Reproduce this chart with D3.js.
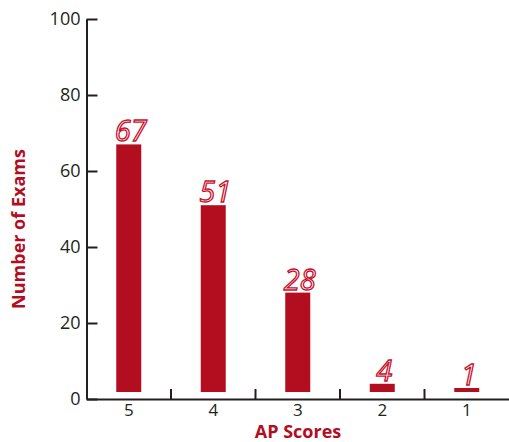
<!DOCTYPE html>
<html>
<head>
<meta charset="utf-8">
<script src="https://cdn.jsdelivr.net/npm/d3@7"></script>
<style>
body { margin: 0; background: #fff; }
</style>
</head>
<body>
<script>
var scores = ["5", "4", "3", "2", "1"];
var exams = [67, 51, 28, 4, 1];
var yTicks = [0, 20, 40, 60, 80, 100];

var width = 509;
var height = 442;
var red = "#b20e1f";
var ink = "#231f20";

var svg = d3.select("body").append("svg").attr("width", width).attr("height", height);

var xScale = d3.scaleBand()
    .domain(scores)
    .range([86.5, 509]);

var yScale = d3.scaleLinear()
    .domain([0, 100])
    .range([399, 19]);

// y axis, ticks point inward
var yAxis = svg.append("g")
    .attr("transform", "translate(" + 86.5 + "," + 0 + ")")
    .call(d3.axisLeft(yScale).tickValues(yTicks).tickSizeInner(-11).tickSizeOuter(0).tickPadding(6));
yAxis.select(".domain").attr("stroke", ink).attr("stroke-width", 2);
yAxis.selectAll(".tick line").attr("stroke", ink).attr("stroke-width", 2);
yAxis.selectAll(".tick text")
    .attr("fill", ink)
    .style("font-family", "'Open Sans', sans-serif")
    .style("font-size", "18px");

// x axis labels at band centres
var xAxis = svg.append("g")
    .attr("transform", "translate(" + 0 + "," + 399 + ")")
    .call(d3.axisBottom(xScale).tickSize(0).tickPadding(5));
xAxis.select(".domain").attr("stroke", ink).attr("stroke-width", 2);
xAxis.selectAll(".tick text")
    .attr("fill", ink)
    .style("font-family", "'Open Sans', sans-serif")
    .style("font-size", "17px");

// separators between the categories, pointing up
svg.append("g")
    .selectAll("line")
    .data(scores.slice(1))
    .enter()
    .append("line")
    .attr("x1", function(d) { return xScale(d); })
    .attr("x2", function(d) { return xScale(d); })
    .attr("y1", 399)
    .attr("y2", 389)
    .attr("stroke", ink)
    .attr("stroke-width", 2);

var barW = 25;
var base = yScale(0) - 7;
function barTop(v) { return Math.min(yScale(v), base - 4); }

svg.append("g")
    .selectAll("rect")
    .data(exams)
    .enter()
    .append("rect")
    .attr("x", function(d, i) { return xScale(scores[i]) + xScale.bandwidth() / 2 - barW / 2; })
    .attr("y", function(d) { return barTop(d); })
    .attr("width", barW)
    .attr("height", function(d) { return base - barTop(d); })
    .attr("fill", red);

svg.append("g")
    .selectAll("text")
    .data(exams)
    .enter()
    .append("text")
    .attr("x", function(d, i) { return xScale(scores[i]) + xScale.bandwidth() / 2 + 2; })
    .attr("y", function(d) { return barTop(d) - 3; })
    .attr("text-anchor", "middle")
    .text(function(d) { return d; })
    .style("font-family", "'Open Sans', sans-serif")
    .style("font-style", "italic")
    .style("font-size", "29px")
    .attr("fill", "#fff")
    .attr("stroke", "#c8102e")
    .attr("stroke-width", 1.3);

svg.append("text")
    .attr("x", 298)
    .attr("y", 438)
    .attr("text-anchor", "middle")
    .attr("fill", red)
    .style("font-family", "'Open Sans', sans-serif")
    .style("font-weight", "bold")
    .style("font-size", "18px")
    .text("AP Scores");

svg.append("text")
    .attr("transform", "translate(" + 25 + "," + 229 + ") rotate(-90)")
    .attr("text-anchor", "middle")
    .attr("fill", red)
    .style("font-family", "'Open Sans', sans-serif")
    .style("font-weight", "bold")
    .style("font-size", "18px")
    .text("Number of Exams");
</script>
</body>
</html>
